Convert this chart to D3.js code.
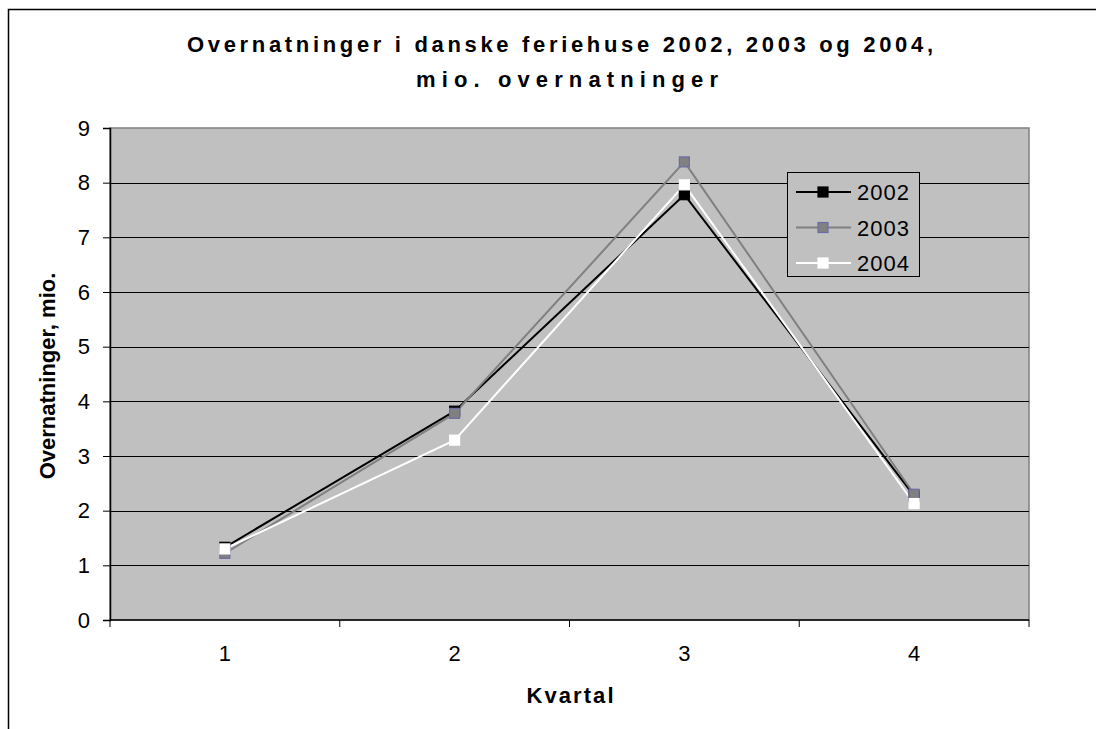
<!DOCTYPE html>
<html>
<head>
<meta charset="utf-8">
<script src="https://cdn.jsdelivr.net/npm/d3@7"></script>
<style>
  body { margin: 0; background: #fff; }
  svg { display: block; font-family: "Liberation Sans", Arial, sans-serif; }
</style>
</head>
<body>
<svg id="chart" width="1096" height="729"></svg>
<script>
// Data
const quarters = ["1", "2", "3", "4"];
const years = ["2002", "2003", "2004"];
const values2002 = [1.33, 3.82, 7.78, 2.27];
const values2003 = [1.22, 3.78, 8.38, 2.30];
const values2004 = [1.30, 3.29, 7.96, 2.13];
const yTicks = [0, 1, 2, 3, 4, 5, 6, 7, 8, 9];

const series = [
    { name: years[0], values: values2002, line: "#000000", fill: "#000000", stroke: "#000000" },
    { name: years[1], values: values2003, line: "#808080", fill: "#808080", stroke: "#6b6baa" },
    { name: years[2], values: values2004, line: "#ffffff", fill: "#ffffff", stroke: "#ffffff" }
];

const svg = d3.select("#chart");

// Outer frame (right and bottom lie outside the picture)
svg.append("rect")
    .attr("x", 8.5).attr("y", 9.5)
    .attr("width", 1200).attr("height", 800)
    .attr("fill", "none")
    .attr("stroke", "#000").attr("stroke-width", 1.5);

const margin = { left: 110, top: 128, right: 1029, bottom: 620 };

const x = d3.scaleBand()
    .domain(quarters)
    .range([margin.left, margin.right]);

const y = d3.scaleLinear()
    .domain([0, 9])
    .range([margin.bottom, margin.top]);

// Plot area
svg.append("rect")
    .attr("x", margin.left).attr("y", margin.top)
    .attr("width", margin.right - margin.left)
    .attr("height", margin.bottom - margin.top)
    .attr("fill", "#c0c0c0")
    .attr("stroke", "#808080").attr("stroke-width", 1.5);

// Gridlines
svg.append("g")
    .selectAll("line")
    .data(yTicks.filter(d => d > 0 && d < 9))
    .enter()
    .append("line")
    .attr("x1", margin.left).attr("x2", margin.right)
    .attr("y1", d => Math.round(y(d)) + 0.5)
    .attr("y2", d => Math.round(y(d)) + 0.5)
    .attr("stroke", "#000").attr("stroke-width", 1);

// Y axis
const yAxis = svg.append("g")
    .attr("transform", `translate(${margin.left},0)`)
    .call(d3.axisLeft(y).tickValues(yTicks).tickSize(7).tickPadding(13));
yAxis.select(".domain").attr("stroke", "#000").attr("stroke-width", 1.5);
yAxis.selectAll(".tick line").attr("stroke", "#000");
yAxis.selectAll("text")
    .attr("font-family", "Liberation Sans, Arial, sans-serif")
    .attr("font-size", 22).attr("fill", "#000");

// X axis, ticks between categories
const xAxis = svg.append("g")
    .attr("transform", `translate(0,${margin.bottom})`)
    .call(d3.axisBottom(x).tickSize(0).tickPadding(25));
xAxis.select(".domain").remove();
xAxis.selectAll("text")
    .attr("font-family", "Liberation Sans, Arial, sans-serif")
    .attr("font-size", 22).attr("fill", "#000");
svg.append("line")
    .attr("x1", margin.left).attr("x2", margin.right)
    .attr("y1", margin.bottom).attr("y2", margin.bottom)
    .attr("stroke", "#000").attr("stroke-width", 1.5);
svg.append("g")
    .selectAll("line")
    .data(quarters.concat(["end"]))
    .enter()
    .append("line")
    .attr("x1", (d, i) => i < quarters.length ? x(d) : margin.right)
    .attr("x2", (d, i) => i < quarters.length ? x(d) : margin.right)
    .attr("y1", margin.bottom).attr("y2", margin.bottom + 7)
    .attr("stroke", "#000").attr("stroke-width", 1);

// Lines and markers
const line = d3.line()
    .x((d, i) => x(quarters[i]) + x.bandwidth() / 2)
    .y(d => y(d));

series.forEach(s => {
    svg.append("path")
        .datum(s.values)
        .attr("d", line)
        .attr("fill", "none")
        .attr("stroke", s.line).attr("stroke-width", 2);
});
series.forEach(s => {
    svg.append("g")
        .selectAll("rect")
        .data(s.values)
        .enter()
        .append("rect")
        .attr("x", (d, i) => x(quarters[i]) + x.bandwidth() / 2 - 5)
        .attr("y", d => y(d) - 5)
        .attr("width", 10).attr("height", 10)
        .attr("fill", s.fill)
        .attr("stroke", s.stroke).attr("stroke-width", 1.2);
});

// Legend
const legend = svg.append("g").attr("transform", "translate(787,172)");
legend.append("rect")
    .attr("x", 0.5).attr("y", 0.5)
    .attr("width", 132).attr("height", 104)
    .attr("fill", "#c0c0c0")
    .attr("stroke", "#000").attr("stroke-width", 1);
series.forEach((s, i) => {
    const cy = 20 + i * 35.5;
    legend.append("line")
        .attr("x1", 9).attr("x2", 64)
        .attr("y1", cy).attr("y2", cy)
        .attr("stroke", s.line).attr("stroke-width", 2);
    legend.append("rect")
        .attr("x", 31).attr("y", cy - 5)
        .attr("width", 10).attr("height", 10)
        .attr("fill", s.fill)
        .attr("stroke", s.stroke).attr("stroke-width", 1.2);
    legend.append("text")
        .attr("x", 70).attr("y", cy + 8)
        .attr("font-size", 22).attr("letter-spacing", 1)
        .attr("fill", "#000")
        .text(s.name);
});

// Title
const title = svg.append("text")
    .attr("text-anchor", "middle")
    .attr("font-size", 22).attr("font-weight", "bold")
    .attr("fill", "#000");
title.append("tspan").attr("x", 560).attr("y", 52)
    .attr("textLength", 746).attr("lengthAdjust", "spacing")
    .text("Overnatninger i danske feriehuse 2002, 2003 og 2004,");
title.append("tspan").attr("x", 567).attr("y", 87)
    .attr("textLength", 302).attr("lengthAdjust", "spacing")
    .text("mio. overnatninger");

// Axis titles
svg.append("text")
    .attr("transform", `translate(55,376) rotate(-90)`)
    .attr("text-anchor", "middle")
    .attr("font-size", 22).attr("font-weight", "bold")
    .attr("fill", "#000")
    .text("Overnatninger, mio.");

svg.append("text")
    .attr("x", 570).attr("y", 703)
    .attr("text-anchor", "middle")
    .attr("font-size", 22).attr("font-weight", "bold")
    .attr("textLength", 87).attr("lengthAdjust", "spacing")
    .attr("fill", "#000")
    .text("Kvartal");
</script>
</body>
</html>
